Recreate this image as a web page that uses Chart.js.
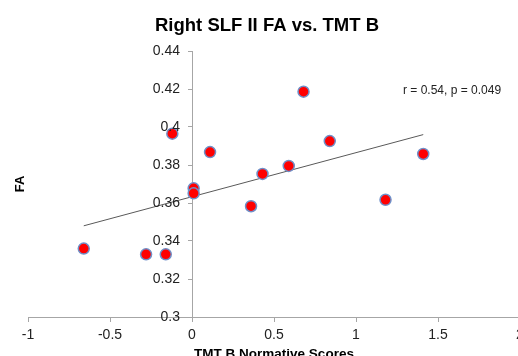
<!DOCTYPE html>
<html>
<head>
<meta charset="utf-8">
<script src="https://cdn.jsdelivr.net/npm/chart.js@4"></script>
<style>
  html, body { margin: 0; padding: 0; background: #fff; overflow: hidden; }
  #wrap { position: absolute; left: 0; top: 0; }
</style>
</head>
<body>
<div id="wrap"><canvas id="c" width="540" height="370"></canvas></div>
<script>
// scores
const tmtB = [-0.66, -0.28, -0.16, -0.12, 0.11, 0.01, 0.01, 0.36, 0.43, 0.59, 0.68, 0.84, 1.18, 1.41];
const faVals = [0.336, 0.333, 0.333, 0.3965, 0.3868, 0.3677, 0.3651, 0.3583, 0.3753, 0.3795, 0.4186, 0.3926, 0.3617, 0.3858];
// linear fit as drawn (end points)
const trendX = [-0.66, 1.41];
const trendY = [0.348, 0.396];
const xTicks = [-1, -0.5, 0, 0.5, 1, 1.5, 2];
const yTicks = [0.3, 0.32, 0.34, 0.36, 0.38, 0.4, 0.42, 0.44];

const titleText = 'Right SLF II FA vs. TMT B';
const xTitle = 'TMT B Normative Scores';
const yTitle = 'FA';
const statText = 'r = 0.54, p = 0.049';

const FONT = '"Liberation Sans", Arial, sans-serif';
const AXIS_GREY = '#a6a6a6';

function fmt(v) {
  return String(Math.round(v * 100) / 100);
}

// the y axis sits at x = 0, chart.js ignores tick padding there, so labels are drawn here
const textPlugin = {
  id: 'texts',
  afterDraw: function (chart) {
    const ctx = chart.ctx;
    const sx = chart.scales.x;
    const sy = chart.scales.y;
    ctx.save();

    ctx.font = '14px ' + FONT;
    ctx.fillStyle = '#222';
    ctx.textAlign = 'right';
    ctx.textBaseline = 'middle';
    const axisX = sx.getPixelForValue(0);
    yTicks.forEach(function (v) {
      ctx.fillText(fmt(v), axisX - 12, sy.getPixelForValue(v));
    });

    ctx.fillStyle = '#000';
    ctx.textAlign = 'center';
    ctx.textBaseline = 'alphabetic';
    ctx.font = 'bold 18.5px ' + FONT;
    ctx.fillText(titleText, 267, 31);

    ctx.font = 'bold 13.5px ' + FONT;
    ctx.fillText(xTitle, 274, 358);

    ctx.save();
    ctx.translate(24, 184);
    ctx.rotate(-Math.PI / 2);
    ctx.font = 'bold 13px ' + FONT;
    ctx.fillText(yTitle, 0, 0);
    ctx.restore();

    ctx.font = '12px ' + FONT;
    ctx.fillStyle = '#222';
    ctx.textAlign = 'left';
    ctx.textBaseline = 'middle';
    ctx.fillText(statText, 403, 91);
    ctx.restore();
  },
};

new Chart(document.getElementById('c'), {
  type: 'scatter',
  data: {
    datasets: [
      {
        label: 'FA',
        data: tmtB.map(function (x, i) {
          return { x: x, y: faVals[i] };
        }),
        backgroundColor: '#ff0000',
        borderColor: '#6f8fc8',
        borderWidth: 1.5,
        pointRadius: 5.5,
        order: 1,
      },
      {
        type: 'line',
        label: 'fit',
        data: trendX.map(function (x, i) {
          return { x: x, y: trendY[i] };
        }),
        borderColor: '#595959',
        borderWidth: 1,
        pointRadius: 0,
        fill: false,
        order: 2,
      },
    ],
  },
  options: {
    responsive: false,
    animation: false,
    devicePixelRatio: 1,
    layout: { padding: { left: 28, right: 20, top: 51, bottom: 53 } },
    plugins: {
      legend: { display: false },
      tooltip: { enabled: false },
      title: { display: false },
    },
    scales: {
      x: {
        type: 'linear',
        position: { y: 0.3 },
        min: -1,
        max: 2,
        afterBuildTicks: function (s) {
          s.ticks = xTicks.map(function (v) { return { value: v }; });
        },
        ticks: {
          callback: fmt,
          color: '#222',
          font: { family: FONT, size: 14 },
          padding: 6,
          maxRotation: 0,
          autoSkip: false,
        },
        grid: { drawOnChartArea: false, drawTicks: true, tickLength: 4, color: AXIS_GREY },
        border: { color: AXIS_GREY, width: 1 },
      },
      y: {
        type: 'linear',
        position: { x: 0 },
        min: 0.3,
        max: 0.44,
        afterBuildTicks: function (s) {
          s.ticks = yTicks.map(function (v) { return { value: v }; });
        },
        ticks: { display: false },
        grid: { drawOnChartArea: false, drawTicks: true, tickLength: 4, color: AXIS_GREY },
        border: { color: AXIS_GREY, width: 1 },
      },
    },
  },
  plugins: [textPlugin],
});
</script>
</body>
</html>
